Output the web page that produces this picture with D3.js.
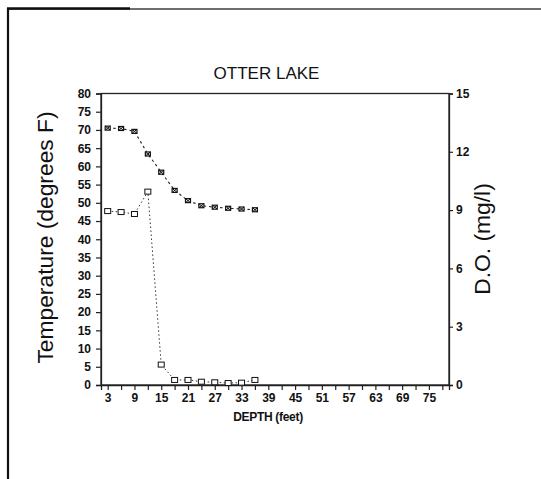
<!DOCTYPE html>
<html>
<head>
<meta charset="utf-8">
<script src="https://cdn.jsdelivr.net/npm/d3@7"></script>
<style>
  html, body { margin: 0; padding: 0; background: #fff; }
  svg { display: block; }
  text { font-family: "Liberation Sans", Arial, Helvetica, sans-serif; fill: #111; }
</style>
</head>
<body>
<svg id="chart" width="541" height="479"></svg>
<script>
// ---- data ----
const title = "OTTER LAKE";
const depths = [3, 6, 9, 12, 15, 18, 21, 24, 27, 30, 33, 36];
const temperature = [70.5, 70.4, 69.6, 63.4, 58.4, 53.4, 50.6, 49.2, 48.8, 48.5, 48.3, 48.1];
const dissolvedOxygen = [8.95, 8.9, 8.8, 9.95, 1.05, 0.26, 0.26, 0.17, 0.14, 0.1, 0.12, 0.26];
const xTicks = [3, 6, 9, 12, 15, 18, 21, 24, 27, 30, 33, 36, 39, 42, 45, 48, 51, 54, 57, 60, 63, 66, 69, 72, 75, 78];
const xTickLabels = [3, 9, 15, 21, 27, 33, 39, 45, 51, 57, 63, 69, 75];
const tempTicks = [0, 5, 10, 15, 20, 25, 30, 35, 40, 45, 50, 55, 60, 65, 70, 75, 80];
const doTicks = [0, 3, 6, 9, 12, 15];

(function () {
const svg = d3.select("#chart");
const mL = 101, mR = 449, mT = 93.5, mB = 385;

// outer frame
svg.append("rect").attr("x", 8).attr("y", 9).attr("width", 700).attr("height", 700)
  .attr("fill", "none").attr("stroke", "#333").attr("stroke-width", 1.4);
svg.append("line").attr("x1", 8).attr("x2", 8).attr("y1", 8).attr("y2", 479)
  .attr("stroke", "#111").attr("stroke-width", 2.2);
svg.append("line").attr("x1", 7).attr("x2", 130).attr("y1", 8.5).attr("y2", 8.5)
  .attr("stroke", "#111").attr("stroke-width", 2.6);

const x = d3.scaleLinear().domain([1.5, 79.5]).range([mL, mR]);
const yT = d3.scaleLinear().domain([0, 80]).range([mB, mT]);
const yD = d3.scaleLinear().domain([0, 15]).range([mB, mT]);

// plot box
svg.append("rect").attr("x", mL).attr("y", mT).attr("width", mR - mL).attr("height", mB - mT)
  .attr("fill", "none").attr("stroke", "#222").attr("stroke-width", 1.3);

function styleAxis(g) {
  g.select(".domain").attr("stroke", "#222").attr("stroke-width", 1.3);
  g.selectAll(".tick line").attr("stroke", "#222").attr("stroke-width", 1.2);
  g.selectAll(".tick text").attr("font-size", 12).attr("font-weight", "bold").attr("fill", "#111");
}

svg.append("g").attr("transform", `translate(0,${mB})`)
  .call(d3.axisBottom(x).tickValues(xTicks).tickSize(5).tickPadding(3)
    .tickFormat(d => xTickLabels.includes(d) ? d : ""))
  .call(styleAxis);

svg.append("g").attr("transform", `translate(${mL},0)`)
  .call(d3.axisLeft(yT).tickValues(tempTicks).tickSize(5).tickPadding(5))
  .call(styleAxis);

svg.append("g").attr("transform", `translate(${mR},0)`)
  .call(d3.axisRight(yD).tickValues(doTicks).tickSize(4).tickPadding(3))
  .call(styleAxis);

// titles
svg.append("text").attr("x", 266.5).attr("y", 79).attr("text-anchor", "middle")
  .attr("font-size", 17).text(title);
svg.append("text").attr("transform", "translate(52.5,237.5) rotate(-90)").attr("text-anchor", "middle")
  .attr("font-size", 22.8).text("Temperature (degrees F)");
svg.append("text").attr("transform", "translate(490,239) rotate(-90)").attr("text-anchor", "middle")
  .attr("font-size", 22.8).text("D.O. (mg/l)");
svg.append("text").attr("x", 268).attr("y", 421).attr("text-anchor", "middle")
  .attr("font-size", 12).attr("font-weight", "bold").attr("letter-spacing", -0.3).text("DEPTH (feet)");

// series
const tData = depths.map((d, i) => ({ d, v: temperature[i] }));
const oData = depths.map((d, i) => ({ d, v: dissolvedOxygen[i] }));

svg.append("path").datum(tData)
  .attr("d", d3.line().x(p => x(p.d)).y(p => yT(p.v)))
  .attr("fill", "none").attr("stroke", "#222").attr("stroke-width", 1.1).attr("stroke-dasharray", "2.5,3");
svg.append("path").datum(oData)
  .attr("d", d3.line().x(p => x(p.d)).y(p => yD(p.v)))
  .attr("fill", "none").attr("stroke", "#333").attr("stroke-width", 1).attr("stroke-dasharray", "1.5,2.5");

// temperature markers: small dark crossed squares
const tm = svg.append("g").selectAll("g").data(tData).join("g")
  .attr("transform", p => `translate(${x(p.d)},${yT(p.v)})`);
tm.append("rect").attr("x", -2.5).attr("y", -2).attr("width", 5).attr("height", 4)
  .attr("fill", "#fff").attr("stroke", "#111").attr("stroke-width", 1.2);
tm.append("path").attr("d", "M-2.5,-2L2.5,2M-2.5,2L2.5,-2").attr("stroke", "#111").attr("stroke-width", 1);

// D.O. markers: small open squares
svg.append("g").selectAll("rect").data(oData).join("rect")
  .attr("x", p => x(p.d) - 3).attr("y", p => yD(p.v) - 2.5)
  .attr("width", 6).attr("height", 5)
  .attr("fill", "#fff").attr("stroke", "#111").attr("stroke-width", 1);
})();
</script>
</body>
</html>
